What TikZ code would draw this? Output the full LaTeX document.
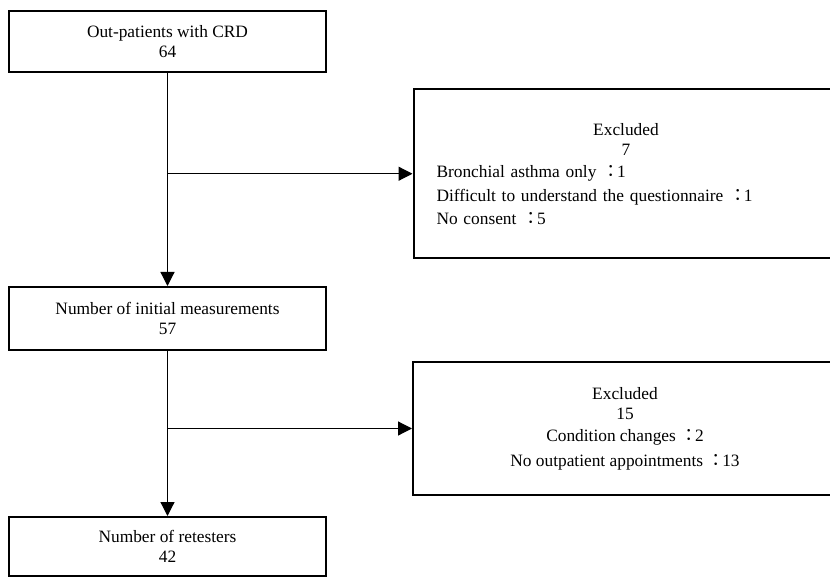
\documentclass[tikz,border=0pt]{standalone}
\usepackage{fontspec}
\setmainfont{Liberation Serif}
\newfontfamily\cjkfont{Noto Sans CJK JP}
\usetikzlibrary{arrows.meta}
\newcommand{\fwcolon}{{\cjkfont ：}\kern-2.5pt}
\tikzset{
  flowarrow/.style={-{Triangle[length=14pt, width=14pt]}, line width=1.2pt},
  stagebox/.style={draw, line width=2pt, minimum width=317pt, minimum height=61pt, align=center},
  exclbox/.style={draw, line width=2pt, minimum width=424pt, inner xsep=23pt}
}

\begin{document}
\begin{tikzpicture}[x=1pt, y=-1pt, every node/.style={font=\fontsize{17.35}{20}\selectfont}]
  \useasboundingbox (0,0) rectangle (830,577);
  \node[stagebox] (cohort) at (167.5,41.5) {Out-patients with CRD\\64};
  \node[stagebox, minimum height=63pt] (initial) at (167.5,318.5) {Number of initial measurements\\57};
  \node[stagebox, minimum height=59pt] (retest) at (167.5,546.5) {Number of retesters\\42};
  \node[exclbox, minimum height=169.5pt, text width=379pt, align=left] (exclA) at (626,173.75)
    {\makebox[379pt][c]{Excluded}\\ \makebox[379pt][c]{7}\\[2pt]
     Bronchial asthma only \fwcolon1\\[4pt]
     Difficult to understand the questionnaire \fwcolon1\\[3pt]
     No consent \fwcolon5};
  \node[exclbox, minimum height=133pt, align=center] (exclB) at (625,428.5)
    {Excluded\\15\\[2pt]Condition changes \fwcolon2\\[5pt]No outpatient appointments \fwcolon13};
  \draw[flowarrow] (cohort) -- (initial);
  \draw[flowarrow] (cohort.south |- exclA.west) -- (exclA.west);
  \draw[flowarrow] (initial) -- (retest);
  \draw[flowarrow] (initial.south |- exclB.west) -- (exclB.west);
\end{tikzpicture}
\end{document}
